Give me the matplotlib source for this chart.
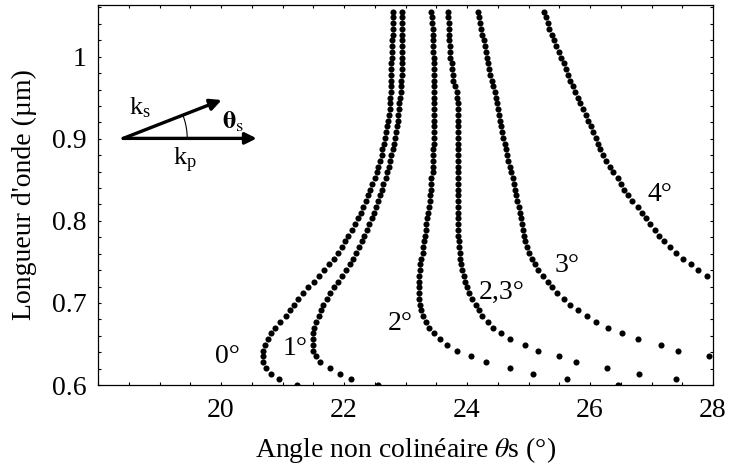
import numpy as np
import matplotlib
matplotlib.use("Agg")
import matplotlib.pyplot as plt
from matplotlib.ticker import MultipleLocator

plt.rcParams['font.family'] = ['Liberation Serif', 'DejaVu Serif']
plt.rcParams['mathtext.fontset'] = 'stix'

# wavelength samples (um), shared by all curves
lam = [0.600, 0.607, 0.614, 0.621, 0.628, 0.635, 0.642, 0.649, 0.656, 0.663,
       0.670, 0.677, 0.684, 0.691, 0.698, 0.705, 0.712, 0.719, 0.726, 0.733,
       0.740, 0.747, 0.754, 0.761, 0.768, 0.775, 0.782, 0.789, 0.796, 0.803,
       0.810, 0.817, 0.824, 0.831, 0.838, 0.845, 0.852, 0.859, 0.866, 0.873,
       0.880, 0.887, 0.894, 0.901, 0.908, 0.915, 0.922, 0.929, 0.936, 0.943,
       0.950, 0.957, 0.964, 0.971, 0.978, 0.985, 0.992, 0.999, 1.006, 1.013,
       1.020, 1.027, 1.034, 1.041, 1.048, 1.055]

# non-collinear angle (deg) for each curve, aligned to the end of lam
theta_0 = [21.24, 20.94, 20.81, 20.73, 20.69, 20.68, 20.69, 20.72, 20.76, 20.81,
           20.88, 20.96, 21.05, 21.12, 21.19, 21.26, 21.33, 21.41, 21.51, 21.59,
           21.67, 21.75, 21.83, 21.90, 21.96, 22.02, 22.07, 22.13, 22.18, 22.23,
           22.27, 22.31, 22.35, 22.39, 22.43, 22.46, 22.50, 22.53, 22.56, 22.59,
           22.61, 22.62, 22.65, 22.67, 22.69, 22.70, 22.71, 22.73, 22.74, 22.75,
           22.75, 22.76, 22.76, 22.76, 22.77, 22.77, 22.77, 22.78, 22.78, 22.78,
           22.78, 22.79, 22.79, 22.79, 22.79, 22.79]
theta_1 = [22.55, 22.12, 21.93, 21.78, 21.61, 21.54, 21.50, 21.49, 21.49, 21.50,
           21.52, 21.55, 21.59, 21.62, 21.66, 21.72, 21.78, 21.84, 21.91, 21.97,
           22.03, 22.09, 22.15, 22.20, 22.25, 22.29, 22.33, 22.38, 22.41, 22.45,
           22.48, 22.52, 22.55, 22.58, 22.62, 22.64, 22.68, 22.70, 22.73, 22.75,
           22.77, 22.79, 22.81, 22.83, 22.85, 22.86, 22.87, 22.88, 22.89, 22.90,
           22.91, 22.92, 22.93, 22.93, 22.94, 22.94, 22.94, 22.94, 22.94, 22.94,
           22.94, 22.94, 22.95, 22.95, 22.95, 22.95]
theta_2 = [26.46, 25.62, 25.08, 24.70, 24.31, 24.07, 23.83, 23.68, 23.56, 23.46,
           23.39, 23.33, 23.28, 23.25, 23.24, 23.22, 23.22, 23.22, 23.22, 23.22,
           23.23, 23.24, 23.26, 23.28, 23.29, 23.30, 23.32, 23.33, 23.34, 23.35,
           23.37, 23.38, 23.40, 23.40, 23.41, 23.41, 23.42, 23.44, 23.45, 23.45,
           23.45, 23.45, 23.46, 23.46, 23.46, 23.46, 23.47, 23.47, 23.47, 23.47,
           23.47, 23.47, 23.47, 23.47, 23.47, 23.46, 23.46, 23.46, 23.45, 23.45,
           23.45, 23.44, 23.44, 23.43, 23.43, 23.42]
theta_23 = [27.40, 26.80, 26.28, 25.77, 25.50, 25.15, 24.95, 24.70, 24.55, 24.43,
            24.34, 24.25, 24.19, 24.14, 24.08, 24.04, 24.00, 23.97, 23.95, 23.92,
            23.90, 23.89, 23.88, 23.87, 23.87, 23.86, 23.86, 23.86, 23.86, 23.86,
            23.86, 23.86, 23.86, 23.86, 23.86, 23.86, 23.86, 23.86, 23.86, 23.86,
            23.86, 23.86, 23.86, 23.86, 23.86, 23.86, 23.86, 23.86, 23.85, 23.84,
            23.83, 23.80, 23.78, 23.77, 23.76, 23.75, 23.73, 23.72, 23.72, 23.71,
            23.71, 23.70, 23.70, 23.69, 23.69]
theta_3 = [27.93, 27.43, 27.15, 26.78, 26.52, 26.30, 26.10, 25.95, 25.80, 25.68,
           25.57, 25.46, 25.38, 25.31, 25.23, 25.16, 25.10, 25.06, 25.01, 24.98,
           24.95, 24.93, 24.91, 24.89, 24.87, 24.86, 24.84, 24.82, 24.80, 24.78,
           24.76, 24.74, 24.72, 24.70, 24.67, 24.65, 24.63, 24.61, 24.59, 24.57,
           24.55, 24.54, 24.52, 24.51, 24.49, 24.47, 24.46, 24.43, 24.40, 24.38,
           24.36, 24.34, 24.33, 24.31, 24.29, 24.28, 24.25, 24.23, 24.21, 24.20,
           24.18]
theta_4 = [27.90, 27.76, 27.65, 27.51, 27.40, 27.30, 27.20, 27.12, 27.05, 26.98,
           26.91, 26.84, 26.78, 26.69, 26.62, 26.56, 26.50, 26.45, 26.37, 26.32,
           26.26, 26.21, 26.17, 26.13, 26.09, 26.05, 26.01, 25.97, 25.93, 25.88,
           25.84, 25.80, 25.76, 25.73, 25.68, 25.65, 25.61, 25.57, 25.53, 25.49,
           25.45, 25.41, 25.38, 25.34, 25.31, 25.28, 25.25]

curves = [theta_0, theta_1, theta_2, theta_23, theta_3, theta_4]
curve_labels = ["0°", "1°", "2°", "2,3°", "3°", "4°"]
# where each label sits (deg, um)
label_pos = [(20.11, 0.635), (21.20, 0.645), (22.91, 0.675),
             (24.57, 0.713), (25.62, 0.746), (27.14, 0.832)]

fig = plt.figure(figsize=(7.31, 4.73), dpi=100)
ax = fig.add_axes([98 / 731, 88 / 473, 615 / 731, 380 / 473])

for th in curves:
    y = lam[len(lam) - len(th):]
    ax.plot(th, y, 'o', color='black', markersize=4.4, markeredgewidth=0)

for txt, (x, y) in zip(curve_labels, label_pos):
    ax.text(x, y, txt, fontsize=20, ha='center', va='center')

ax.set_xlim(18, 28)
ax.set_ylim(0.6, 1.063)
ax.set_xticks([20, 22, 24, 26, 28])
ax.set_yticks([0.6, 0.7, 0.8, 0.9, 1.0])
ax.set_yticklabels(["0.6", "0.7", "0.8", "0.9", "1"])
ax.xaxis.set_minor_locator(MultipleLocator(0.5))
ax.yaxis.set_minor_locator(MultipleLocator(0.02))
ax.tick_params(which='both', direction='in', top=True, right=True,
               length=2.5, width=0.8, labelsize=20)
ax.tick_params(axis='x', pad=9)
ax.tick_params(axis='y', pad=8)
for s in ax.spines.values():
    s.set_linewidth(0.9)

ax.set_xlabel("Angle non colinéaire $\\theta$s (°)", fontsize=20, labelpad=9)
ax.set_ylabel("Longueur d'onde (µm)", fontsize=20, labelpad=11)

# inset: vector diagram k_p, k_s, theta_s
start = (0.041, 0.649)
arrow = dict(arrowstyle='-|>', lw=2.4, color='black', mutation_scale=17,
             shrinkA=0, shrinkB=0)
ax.annotate("", xy=(0.258, 0.649), xytext=start, xycoords='axes fraction',
            arrowprops=arrow)
ax.annotate("", xy=(0.201, 0.750), xytext=start, xycoords='axes fraction',
            arrowprops=arrow)
ang = np.radians(np.linspace(0, 21, 20))
r = 64
ax.plot(start[0] + r * np.cos(ang) / 615, start[1] + r * np.sin(ang) / 380,
        color='black', lw=0.8, transform=ax.transAxes)
ax.text(0.068, 0.730, "k$_\\mathregular{s}$", fontsize=19, transform=ax.transAxes,
        ha='center', va='center')
ax.text(0.220, 0.692, "$\\mathbf{\\theta}_\\mathrm{s}$", fontsize=19,
        transform=ax.transAxes, ha='center', va='center')
ax.text(0.142, 0.592, "k$_\\mathregular{p}$", fontsize=19, transform=ax.transAxes,
        ha='center', va='center')

fig.savefig("out.png", dpi=100)
